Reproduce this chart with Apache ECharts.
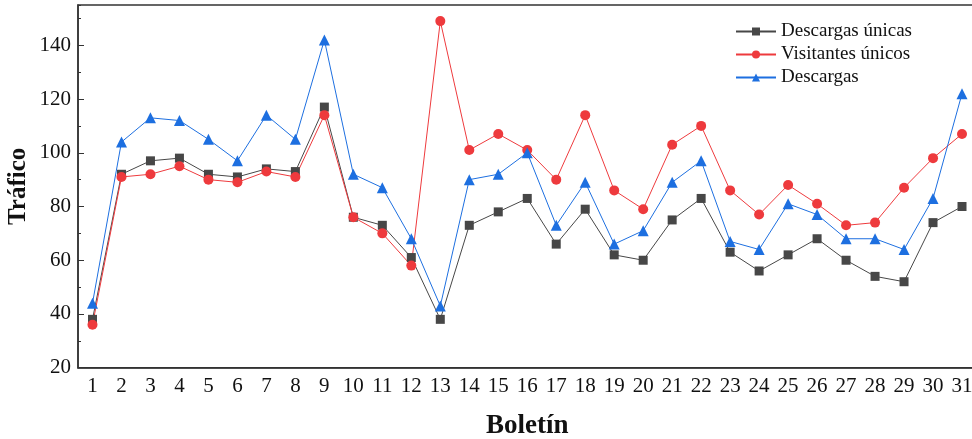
<!DOCTYPE html>
<html>
<head>
<meta charset="utf-8">
<script src="https://cdn.jsdelivr.net/npm/echarts@6/dist/echarts.min.js"></script>
<style>
html,body{margin:0;padding:0;background:#fff;}
#main{width:972px;height:439px;}
</style>
</head>
<body>
<div id="main"></div>
<script>
const categories = ['1','2','3','4','5','6','7','8','9','10','11','12','13','14','15','16','17','18','19','20','21','22','23','24','25','26','27','28','29','30','31'];
const descargasUnicas = [38,92,97,98,92,91,94,93,117,76,73,61,38,73,78,83,66,79,62,60,75,83,63,56,62,68,60,54,52,74,80];
const visitantesUnicos = [36,91,92,95,90,89,93,91,114,76,70,58,149,101,107,101,90,114,86,79,103,110,86,77,88,81,73,74,87,98,107];
const descargas = [44,104,113,112,105,97,114,105,142,92,87,68,43,90,92,100,73,89,66,71,89,97,67,64,81,77,68,68,64,83,122];
const seriesNames = ['Descargas únicas','Visitantes únicos','Descargas'];

const FONT = '"Liberation Serif", "Times New Roman", serif';
const chart = echarts.init(document.getElementById('main'));
const axisColor = '#333';
function mk(name, data, color, symbol, size) {
  return {
    name: name, type: 'line', data: data,
    symbol: symbol, symbolSize: size,
    itemStyle: { color: color },
    lineStyle: { color: color, width: 1 },
    emphasis: { disabled: true }
  };
}
chart.setOption({
  animation: false,
  grid: { left: 78, top: 5, right: -4.5, bottom: 71.3, show: true, borderColor: axisColor, borderWidth: 1.5, outerBoundsMode: 'none' },
  legend: {
    orient: 'vertical', left: 730, top: 17,
    itemWidth: 40, itemHeight: 10, itemGap: 4,
    textStyle: { fontFamily: FONT, fontSize: 19, color: '#111' },
    data: seriesNames
  },
  xAxis: {
    type: 'category', data: categories, boundaryGap: true,
    name: 'Boletín', nameLocation: 'middle', nameGap: 45, nameMoveOverlap: false,
    nameTextStyle: { fontFamily: FONT, fontSize: 27, fontWeight: 'bold', color: '#111' },
    axisLine: { lineStyle: { color: axisColor, width: 1.5 } },
    axisTick: { inside: true, alignWithLabel: true, length: 6, lineStyle: { color: axisColor } },
    axisLabel: { fontFamily: FONT, fontSize: 21, color: '#111', margin: 8, interval: 0 },
    splitLine: { show: false }
  },
  yAxis: [{
    type: 'value', min: 20, max: 155, interval: 20,
    name: 'Tráfico', nameLocation: 'middle', nameGap: 47, nameMoveOverlap: false,
    nameTextStyle: { fontFamily: FONT, fontSize: 25, fontWeight: 'bold', color: '#111' },
    axisLine: { show: true, lineStyle: { color: axisColor, width: 1.5 } },
    axisTick: { show: true, inside: true, length: 6, lineStyle: { color: axisColor } },
    axisLabel: { fontFamily: FONT, fontSize: 21, color: '#111', margin: 7, showMaxLabel: false },
    splitLine: { show: false }
  }, {
    type: 'value', min: 20, max: 155, interval: 10, position: 'left', offset: 0,
    axisLine: { show: false },
    axisTick: { show: true, inside: true, length: 3, lineStyle: { color: axisColor } },
    axisLabel: { show: false },
    splitLine: { show: false }
  }],
  series: [
    mk(seriesNames[0], descargasUnicas, '#474747', 'rect', 9),
    mk(seriesNames[1], visitantesUnicos, '#ee3a3d', 'circle', 10),
    mk(seriesNames[2], descargas, '#1d6fe0', 'triangle', 11)
  ]
});
</script>
</body>
</html>
